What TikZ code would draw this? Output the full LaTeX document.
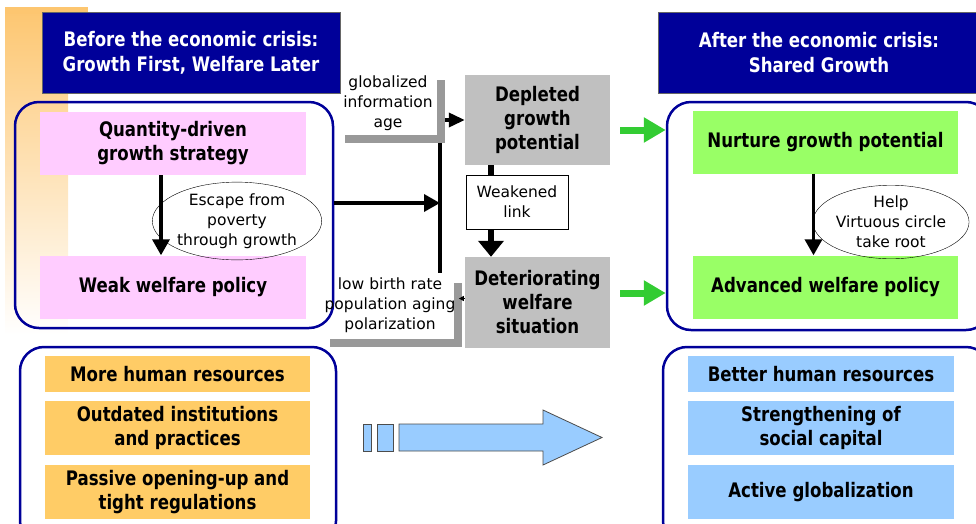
\documentclass[tikz,border=0pt]{standalone}
\usepackage{fontspec}
\setmainfont{DejaVu Sans}[FakeStretch=0.83]
\newfontfamily\smallfont{DejaVu Sans}
\usetikzlibrary{shapes,positioning,arrows.meta}
\definecolor{hdrcolor}{RGB}{0,0,153}
\definecolor{pinkcolor}{RGB}{255,204,255}
\definecolor{greencolor}{RGB}{153,255,102}
\definecolor{orngcolor}{RGB}{255,204,102}
\definecolor{bluecolor}{RGB}{153,204,255}
\definecolor{graycolor}{RGB}{192,192,192}
\definecolor{shadecolor}{RGB}{153,153,153}
\definecolor{arrowcolor}{RGB}{51,204,51}
\definecolor{fadecolor}{RGB}{253,198,112}

\begin{document}
\begin{tikzpicture}[%
    x=1pt, y=-1pt,              % pixel grid, y going down
    >={Triangle[width=17pt,length=16pt]},
    node distance=9pt,          % gap between stacked boxes
    ]
\tikzset{
  base/.style={align=center, inner sep=2pt, font=\fontsize{20}{24}\selectfont\bfseries},
  hdr/.style={base, fill=hdrcolor, draw=black!60, text=white, minimum width=298pt, minimum height=81pt, font=\fontsize{20}{25}\selectfont\bfseries},
  cont/.style={draw=hdrcolor, line width=2.5pt, rounded corners=24pt, inner sep=0pt},
  pinkbox/.style={base, fill=pinkcolor, minimum width=266pt, minimum height=63pt},
  greenbox/.style={base, fill=greencolor, minimum width=265pt, minimum height=63pt},
  orngbox/.style={base, fill=orngcolor, minimum width=265pt, minimum height=54pt},
  bluebox/.style={base, fill=bluecolor, minimum width=266pt, minimum height=54pt},
  graybox/.style={base, fill=graycolor, minimum width=145pt, minimum height=90pt},
  note/.style={align=center, inner sep=1pt, font=\smallfont\fontsize{15.5}{20}\selectfont},
  bubble/.style={note, draw, ellipse, thin, inner sep=0pt, minimum width=122pt, minimum height=70pt},
  linkbox/.style={note, draw, thin, fill=white, minimum width=102pt, minimum height=54pt},
  norm/.style={->, line width=3.5pt},
  garrow/.style={-{Triangle[width=24pt,length=22pt]}, line width=7pt, arrowcolor},
  bracket/.style={shadecolor, line width=8pt},
}
\useasboundingbox (0,0) rectangle (976,523);

% faded corner decoration
\shade[top color=fadecolor, bottom color=white] (5,7) rectangle (68,335);
\fill[fadecolor] (5,7) rectangle (88,14);

% headers
\node [hdr] (hL) at (191,52.5) {Before the economic crisis:\\Growth First, Welfare Later};
\node [hdr, minimum width=322pt] (hR) at (819,52.5) {After the economic crisis:\\Shared Growth};

% rounded frames
\node [cont, minimum width=318pt, minimum height=226pt] (cL) at (174,215) {};
\node [cont, minimum width=323pt, minimum height=228pt] (cR) at (828.5,216) {};
\node [cont, minimum width=316pt, minimum height=198pt] (cBL) at (178,446) {};
\node [cont, minimum width=327pt, minimum height=198pt] (cBR) at (826.5,446) {};

% before
\node [pinkbox] (q1) at (173,143.5) {Quantity-driven\\growth strategy};
\node [pinkbox] (q2) at (173,287) {Weak welfare policy};
\draw [norm] ([xshift=-12pt]q1.south) -- ([xshift=-12pt]q2.north);
\node [bubble] (e1) at (237,221) {Escape from\\poverty\\through growth};

% after
\node [greenbox] (g1) at (825.5,142) {Nurture growth potential};
\node [greenbox] (g2) at (825.5,287) {Advanced welfare policy};
\draw [norm] ([xshift=-12pt]g1.south) -- ([xshift=-12pt]g2.north);
\node [bubble] (e2) at (891,222) {Help\\Virtuous circle\\take root};

% middle
\node [graybox] (dep) at (537.5,120) {Depleted\\growth\\potential};
\node [graybox, minimum height=91pt] (det) at (537.5,302.5) {Deteriorating\\welfare\\situation};
\node [linkbox] (weak) at (517,202) {Weakened\\link};
\node [note] (glob) at (388,103) {globalized\\information\\age};
\node [note] (low) at (390,305) {low birth rate\\population aging\\polarization};

\draw [bracket] (345,139) -| (441,80);
\draw [bracket] (330,343) -| (458,283);

\coordinate (jtop) at (440,143);
\coordinate (jmid) at (440,203);
\coordinate (jbot) at (440,273);
\draw [line width=3.5pt] (jtop) -- (jbot);
\draw [norm, >={Triangle[width=14pt,length=16pt]}] ([xshift=5pt]jtop |- dep.west) -- (dep.west);
\draw [norm] (cL.east |- jmid) -- (jmid);
\draw [-{Triangle[width=5pt,length=5pt]}, line width=0.8pt] ([yshift=4pt]det.west) -- ++(-6,0);

\draw [line width=6pt] ([xshift=-26pt]weak.north |- dep.south) -- ([xshift=-26pt]weak.north);
\draw [-{Triangle[width=25pt,length=16pt]}, line width=6pt] ([xshift=-26pt]weak.south) -- ([xshift=-26pt]weak.south |- det.north);

\draw [garrow] ([xshift=10pt,yshift=-10pt]dep.east) -- ([yshift=-10pt]dep.east -| cR.west);
\draw [garrow] ([xshift=10pt,yshift=9.5pt]det.east) -- ([yshift=9.5pt]det.east -| cR.west);

% bottom lists
\node [orngbox, minimum height=36pt] (o1) at (177.5,374) {More human resources};
\node [orngbox, below=of o1] (o2) {Outdated institutions\\and practices};
\node [orngbox, below=of o2] (o3) {Passive opening-up and\\tight regulations};

\node [bluebox, minimum height=36pt] (b1) at (821,374) {Better human resources};
\node [bluebox, below=of b1] (b2) {Strengthening of\\social capital};
\node [bluebox, below=of b2] (b3) {Active globalization};

% big arrow
\draw [draw=black!70, fill=bluecolor, line width=0.8pt] (363,424) rectangle (371,451);
\draw [draw=black!70, fill=bluecolor, line width=0.8pt] (377,424) rectangle (393,451);
\draw [draw=black!70, fill=bluecolor, line width=0.8pt] (399,424) -- (543,424) -- (543,410) -- (602,437.5) -- (543,465) -- (543,451) -- (399,451) -- cycle;

\end{tikzpicture}
\end{document}
